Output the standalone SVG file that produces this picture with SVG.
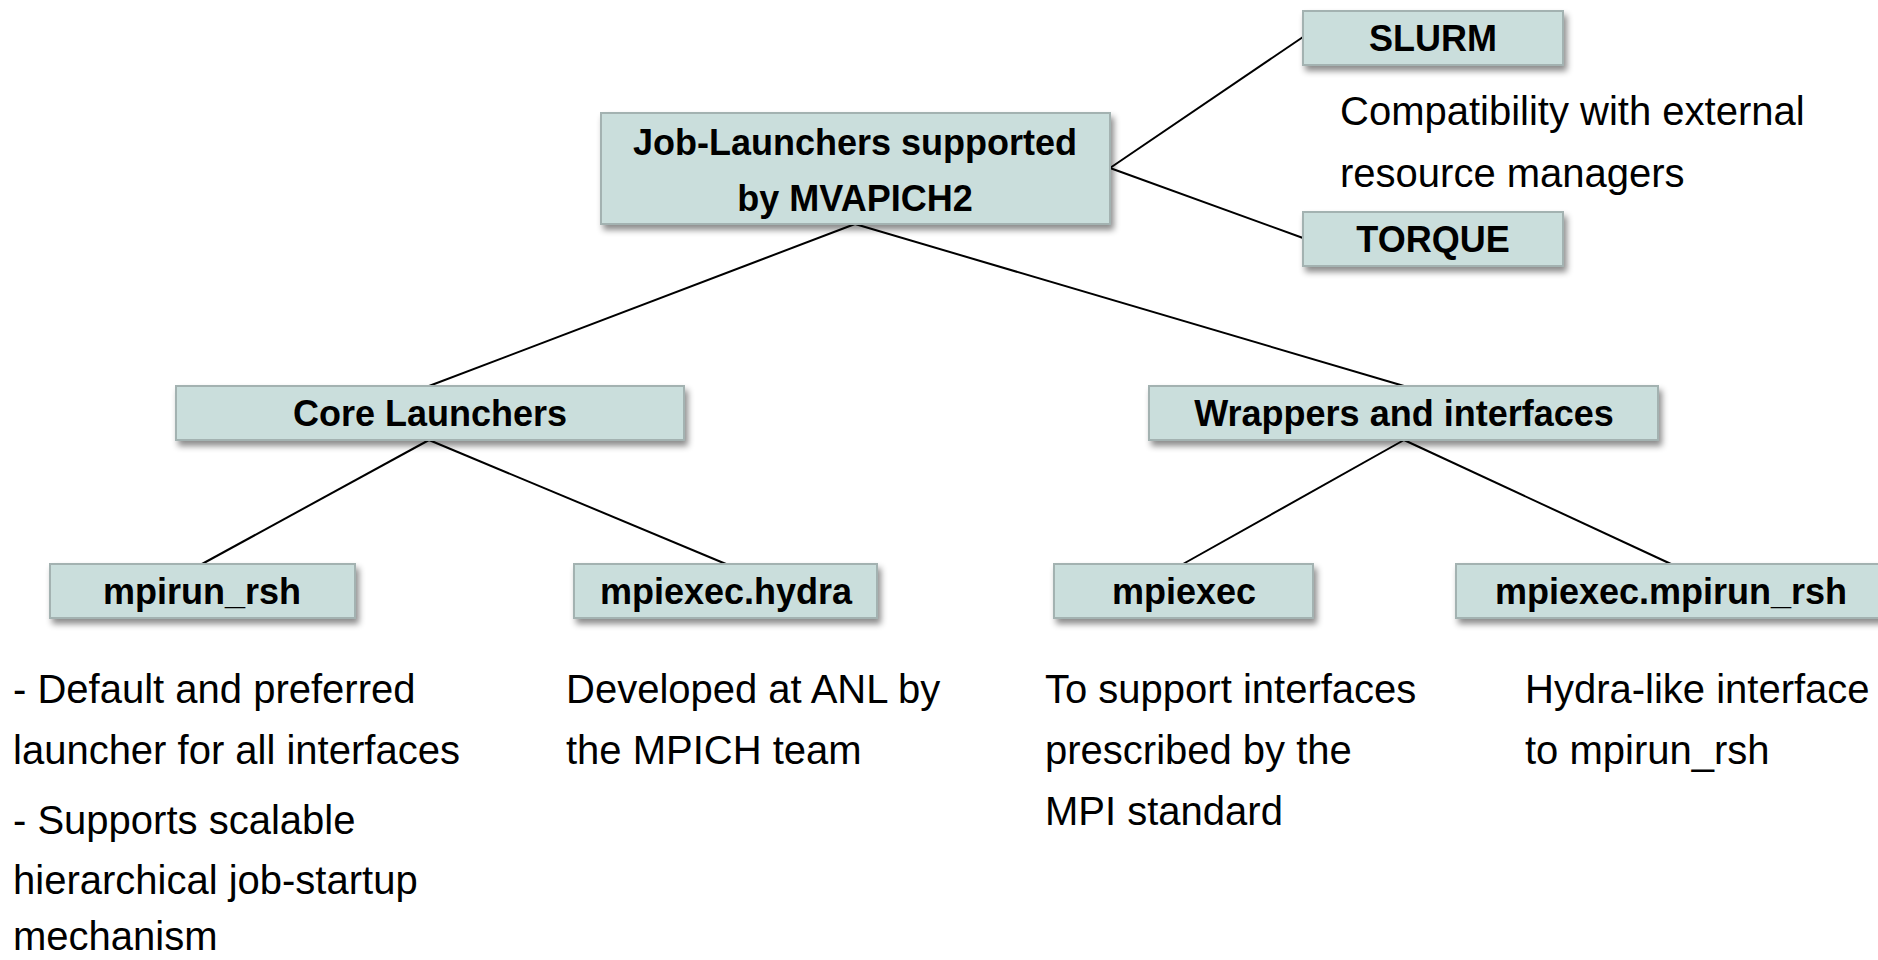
<svg xmlns="http://www.w3.org/2000/svg" width="1878" height="960" viewBox="0 0 1878 960">
<defs>
<filter id="sh" x="-10%" y="-20%" width="130%" height="160%">
<feDropShadow dx="3" dy="5" stdDeviation="3" flood-color="#000" flood-opacity="0.45"/>
</filter>
<style>
.box{fill:#cadedc;stroke:#a3b2b1;stroke-width:2;filter:url(#sh)}
.lbl{font-family:"Liberation Sans",Arial,sans-serif;font-weight:bold;font-size:36px;fill:#000;text-anchor:middle}
.txt{font-family:"Liberation Sans",Arial,sans-serif;font-size:40px;fill:#000}
.con{stroke:#000;stroke-width:2;fill:none}
</style>
</defs>
<rect width="1878" height="960" fill="#fff"/>
<g id="connectors">
<line class="con" x1="855" y1="224" x2="429" y2="386"/>
<line class="con" x1="855" y1="224" x2="1404" y2="386"/>
<line class="con" x1="1110" y1="168" x2="1303" y2="37"/>
<line class="con" x1="1110" y1="168" x2="1303" y2="238"/>
<line class="con" x1="429" y1="440" x2="202" y2="564"/>
<line class="con" x1="429" y1="440" x2="726" y2="564"/>
<line class="con" x1="1404" y1="440" x2="1183" y2="564"/>
<line class="con" x1="1404" y1="440" x2="1671" y2="564"/>
</g>
<g id="root">
<rect class="box" x="601" y="113" width="509" height="111"/>
<text class="lbl" x="855" y="155">Job-Launchers supported</text>
<text class="lbl" x="855" y="211">by MVAPICH2</text>
</g>
<g id="slurm">
<rect class="box" x="1303" y="11" width="260" height="54"/>
<text class="lbl" x="1433" y="51">SLURM</text>
</g>
<g id="torque">
<rect class="box" x="1303" y="212" width="260" height="54"/>
<text class="lbl" x="1433" y="252">TORQUE</text>
</g>
<g id="compat-note">
<text class="txt" x="1340" y="125">Compatibility with external</text>
<text class="txt" x="1340" y="187">resource managers</text>
</g>
<g id="core">
<rect class="box" x="176" y="386" width="508" height="54"/>
<text class="lbl" x="430" y="426">Core Launchers</text>
</g>
<g id="wrappers">
<rect class="box" x="1149" y="386" width="509" height="54"/>
<text class="lbl" x="1404" y="426">Wrappers and interfaces</text>
</g>
<g id="mpirun_rsh">
<rect class="box" x="50" y="564" width="305" height="54"/>
<text class="lbl" x="202" y="604">mpirun_rsh</text>
</g>
<g id="hydra">
<rect class="box" x="574" y="564" width="303" height="54"/>
<text class="lbl" x="726" y="604">mpiexec.hydra</text>
</g>
<g id="mpiexec">
<rect class="box" x="1054" y="564" width="259" height="54"/>
<text class="lbl" x="1184" y="604">mpiexec</text>
</g>
<g id="mpiexec_mpirun_rsh">
<rect class="box" x="1456" y="564" width="430" height="54"/>
<text class="lbl" x="1671" y="604">mpiexec.mpirun_rsh</text>
</g>
<g id="notes">
<text class="txt" x="13" y="703">- Default and preferred</text>
<text class="txt" x="13" y="764">launcher for all interfaces</text>
<text class="txt" x="13" y="834">- Supports scalable</text>
<text class="txt" x="13" y="894">hierarchical job-startup</text>
<text class="txt" x="13" y="950">mechanism</text>
<text class="txt" x="566" y="703">Developed at ANL by</text>
<text class="txt" x="566" y="764">the MPICH team</text>
<text class="txt" x="1045" y="703">To support interfaces</text>
<text class="txt" x="1045" y="764">prescribed by the</text>
<text class="txt" x="1045" y="825">MPI standard</text>
<text class="txt" x="1525" y="703">Hydra-like interface</text>
<text class="txt" x="1525" y="764">to mpirun_rsh</text>
</g>
</svg>
